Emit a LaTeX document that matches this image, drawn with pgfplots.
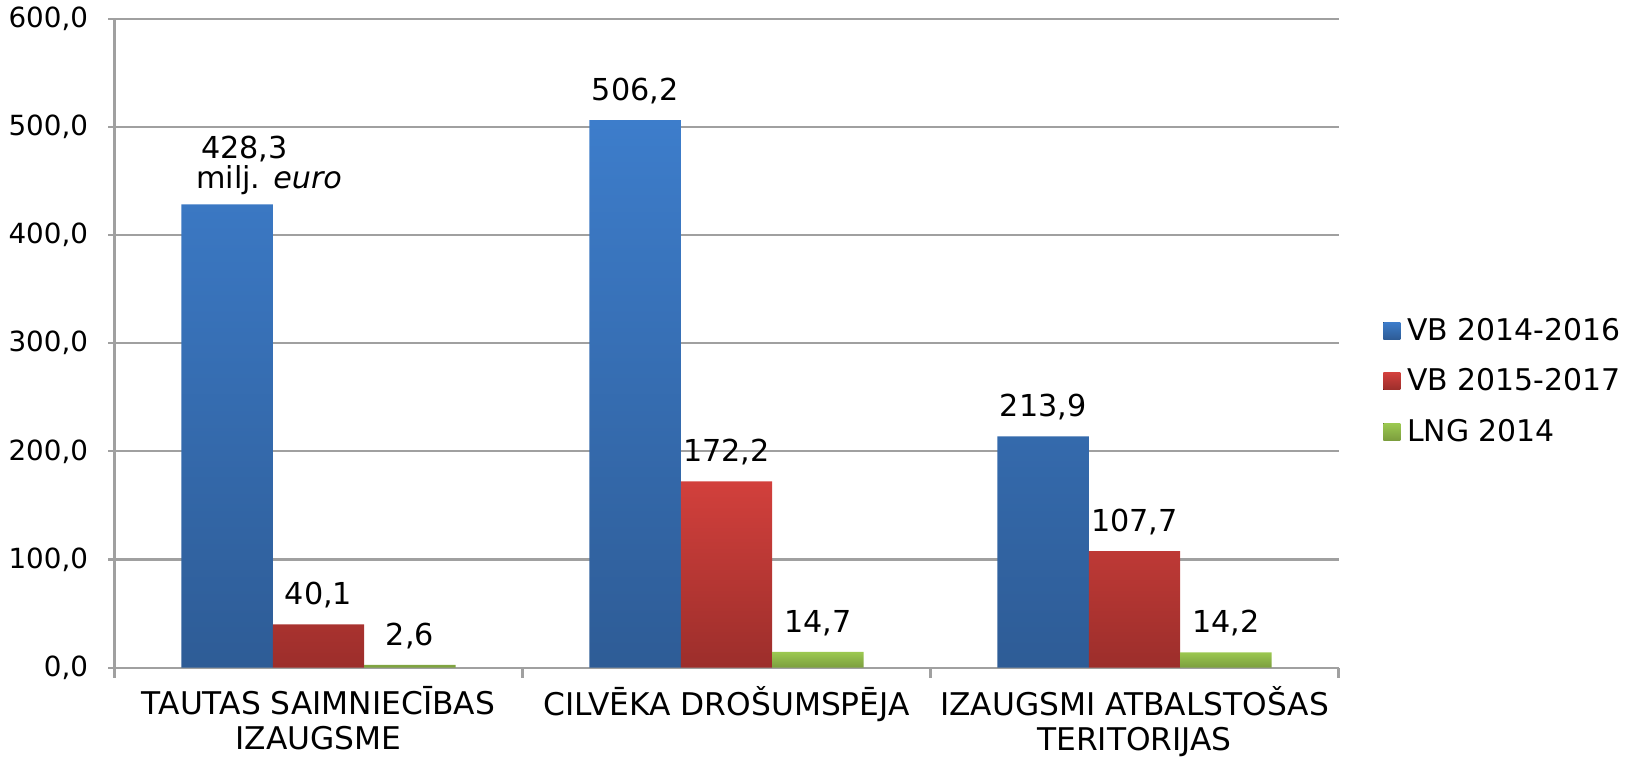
\documentclass[border=0pt]{standalone}
\usepackage{fontspec}
\setmainfont{DejaVu Sans}
\usepackage{pgfplots}
\pgfplotsset{compat=1.18}

\definecolor{bluetop}{HTML}{3D7DCB}
\definecolor{bluebot}{HTML}{2E5C96}
\definecolor{redtop}{HTML}{D2403C}
\definecolor{redbot}{HTML}{9C2E2B}
\definecolor{greentop}{HTML}{9CC951}
\definecolor{greenbot}{HTML}{7C9E3E}
\definecolor{gridgray}{HTML}{A0A0A0}

\begin{document}
\begin{tikzpicture}
\begin{axis}[
  scale only axis,
  width=12.24cm,height=6.49cm,
  ybar=0pt,bar width=0.224,
  xmin=-0.5,xmax=2.5,ymin=0,ymax=600,
  axis lines=left,
  axis line style={-,gridgray,line width=0.6pt},
  xtick={0,1,2},
  xticklabels={TAUTAS SAIMNIECĪBAS\\IZAUGSME,CILVĒKA DROŠUMSPĒJA,IZAUGSMI ATBALSTOŠAS\\TERITORIJAS},
  xticklabel style={align=center,font=\fontsize{8.9}{10}\selectfont,yshift=0pt},
  major x tick style={draw=none},
  minor xtick={-0.5,0.5,1.5,2.5},
  minor x tick style={gridgray,line width=0.6pt},
  minor tick length=1.0mm,
  tick align=outside,
  ytick={0,100,200,300,400,500,600},
  major tick length=0.6mm,
  y tick style={gridgray,line width=0.6pt},
  yticklabel style={font=\fontsize{7.9}{9}\selectfont,xshift=-0.8mm},
  /pgf/number format/.cd,fixed,fixed zerofill,precision=1,use comma,assume math mode=true,
  /pgfplots/.cd,
  ymajorgrids,
  grid style={gridgray,line width=0.6pt},
  nodes near coords,
  point meta=explicit symbolic,
  every node near coord/.append style={font=\fontsize{8.6}{10.4}\selectfont,align=left,black,yshift=1pt},
  legend style={at={(1.036,0.44)},anchor=west,draw=none,fill=none,
    font=\fontsize{8.5}{10}\selectfont,row sep=0.9mm,inner xsep=0pt,
    /tikz/every even column/.append style={column sep=0.5mm}},
  legend cell align=left,
  legend image code/.code={\fill[#1] (0cm,-0.075cm) rectangle (0.17cm,0.095cm);},
  clip=false,
]
\addplot[draw=none,top color=bluetop,bottom color=bluebot] coordinates {
  (0,428.3) [{\hspace*{8.4mm}\,428,3\\[-1.8pt]\hspace*{8.4mm}\raisebox{0pt}[\height][-0.9pt]{milj. \textit{euro}}}]
  (1,506.2) [506,2]
  (2,213.9) [213,9]
};
\addlegendentry{VB 2014-2016}
\addplot[draw=none,top color=redtop,bottom color=redbot] coordinates {
  (0,40.1) [40,1]
  (1,172.2) [172,2]
  (2,107.7) [107,7]
};
\addlegendentry{VB 2015-2017}
\addplot[draw=none,top color=greentop,bottom color=greenbot] coordinates {
  (0,2.6) [2,6]
  (1,14.7) [14,7]
  (2,14.2) [14,2]
};
\addlegendentry{LNG 2014}
\end{axis}
\pgfresetboundingbox
\path[use as bounding box] ([xshift=-11.45mm,yshift=-9.2mm]current axis.south west)
  rectangle ([xshift=29.35mm,yshift=1.87mm]current axis.north east);
\end{tikzpicture}
\end{document}
